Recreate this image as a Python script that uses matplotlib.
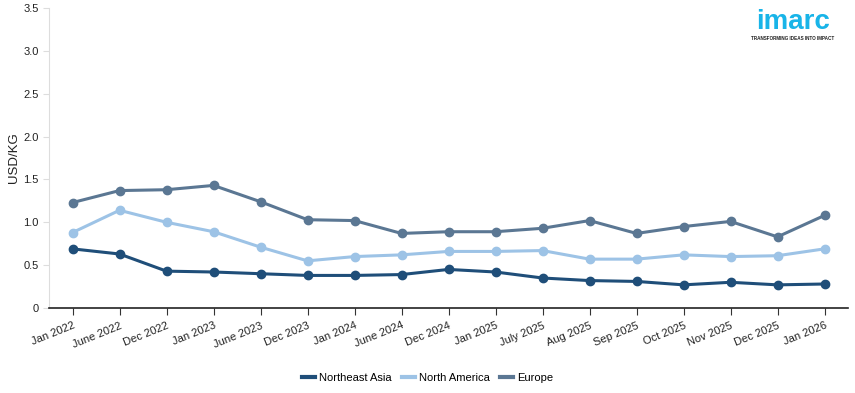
import matplotlib
matplotlib.use("Agg")
import matplotlib.pyplot as plt
from matplotlib.ticker import FixedLocator, FuncFormatter

plt.rcParams["font.family"] = ["Liberation Sans", "DejaVu Sans"]

# data
periods = ["Jan 2022", "June 2022", "Dec 2022", "Jan 2023", "June 2023", "Dec 2023",
           "Jan 2024", "June 2024", "Dec 2024", "Jan 2025", "July 2025", "Aug 2025",
           "Sep 2025", "Oct 2025", "Nov 2025", "Dec 2025", "Jan 2026"]
northeast_asia = [0.69, 0.63, 0.43, 0.42, 0.40, 0.38, 0.38, 0.39, 0.45, 0.42,
                  0.35, 0.32, 0.31, 0.27, 0.30, 0.27, 0.28]
north_america = [0.88, 1.14, 1.00, 0.89, 0.71, 0.55, 0.60, 0.62, 0.66, 0.66,
                 0.67, 0.57, 0.57, 0.62, 0.60, 0.61, 0.69]
europe = [1.23, 1.37, 1.38, 1.43, 1.24, 1.03, 1.02, 0.87, 0.89, 0.89,
          0.93, 1.02, 0.87, 0.95, 1.01, 0.83, 1.08]

COLORS = {"ne_asia": "#1F4E79", "n_america": "#9DC3E6", "europe": "#5B7793"}

fig = plt.figure(figsize=(8.55, 3.93), dpi=100)
ax = fig.add_axes([49 / 855, 1 - 308 / 393, (848 - 49) / 855, 300 / 393])

x = list(range(len(periods)))
for vals, key, name in [(northeast_asia, "ne_asia", "Northeast Asia"),
                        (north_america, "n_america", "North America"),
                        (europe, "europe", "Europe")]:
    ax.plot(x, vals, color=COLORS[key], lw=2.2, marker="o", ms=6, label=name)

ax.set_xlim(-0.5, len(periods) - 0.5)
ax.set_ylim(0, 3.5)
ax.yaxis.set_major_locator(FixedLocator([0, 0.5, 1, 1.5, 2, 2.5, 3, 3.5]))
ax.yaxis.set_major_formatter(FuncFormatter(lambda v, p: "0" if v == 0 else f"{v:.1f}"))
ax.set_xticks(x)
ax.set_xticklabels(periods, rotation=22, ha="right", rotation_mode="anchor", fontsize=8)
ax.tick_params(axis="y", labelsize=8, length=4, color="#DDDDDD", labelcolor="#222222")
ax.tick_params(axis="x", length=5, color="#333333", labelcolor="#222222", pad=4)

for s in ["top", "right"]:
    ax.spines[s].set_visible(False)
ax.spines["left"].set_color("#DDDDDD")
ax.spines["bottom"].set_color("#222222")
ax.spines["bottom"].set_linewidth(1.2)

ax.set_ylabel("USD/KG", fontsize=9.5, color="#222222", labelpad=2)

handles, labels = ax.get_legend_handles_labels()
leg_handles = [plt.Line2D([], [], color=h.get_color(), lw=3) for h in handles]
fig.legend(leg_handles, labels, loc="center", bbox_to_anchor=(0.5, 1 - 378 / 393),
           ncol=3, frameon=False, fontsize=8, handlelength=1.2, handletextpad=0.35,
           columnspacing=0.9)

# logo
fig.text(0.927, 1 - 29 / 393, "imarc", color="#18B4E8", fontsize=20, fontweight="bold",
         ha="center", va="baseline")
fig.text(0.927, 1 - 39 / 393, "TRANSFORMING IDEAS INTO IMPACT", color="#222222",
         fontsize=3.3, fontweight="bold", ha="center", va="center")

fig.savefig("out.png", dpi=100)
